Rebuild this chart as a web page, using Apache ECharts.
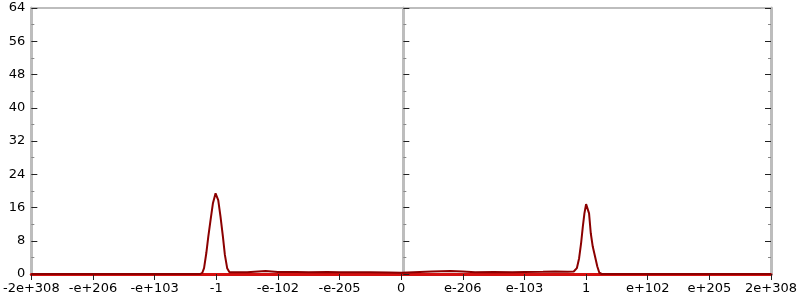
<!DOCTYPE html>
<html><head><meta charset="utf-8">
<script src="https://cdn.jsdelivr.net/npm/echarts@6/dist/echarts.min.js"></script>
<style>html,body{margin:0;padding:0;background:#fff}#c{width:800px;height:300px}</style>
</head><body><div id="c"></div>
<script>
// Tick labels (x positions are label indexes -6..6)
var xTickLabels = ['-2e+308','-e+206','-e+103','-1','-e-102','-e-205','0','e-206','e-103','1','e+102','e+205','2e+308'];

// Density curve
var curveX = [-6, -3.26, -3.226, -3.198, -3.161, -3.129, -3.092, -3.053, -3.011, -2.968, -2.931, -2.892, -2.860, -2.823, -2.785,
  -2.7, -2.5, -2.2, -2.0, -1.7, -1.5, -1.2, -1.0, -0.7, -0.5, -0.2, 0, 0.2, 0.5, 0.8, 1.0, 1.2, 1.5, 1.8, 2.0, 2.3, 2.5, 2.7,
  2.80, 2.850, 2.887, 2.919, 2.947, 2.973, 3.000, 3.027, 3.048, 3.076, 3.108, 3.145, 3.182, 3.215, 3.253, 6];
var curveY = [0, 0, 0.3, 1.4, 5.05, 9.0, 13.0, 17.1, 19.4, 17.8, 13.8, 9.0, 4.6, 1.4, 0.4,
  0.4, 0.45, 0.7, 0.5, 0.5, 0.4, 0.5, 0.45, 0.4, 0.4, 0.35, 0.3, 0.45, 0.6, 0.7, 0.6, 0.45, 0.5, 0.45, 0.5, 0.55, 0.6, 0.55,
  0.6, 1.4, 3.8, 7.4, 11.4, 14.6, 16.8, 16.8, 14.6, 9.8, 6.6, 4.2, 1.8, 0.3, 0, 0];

var curve = curveX.map(function (x, i) { return [x, curveY[i]]; });

var FONT = 'DejaVu Sans';
function blank() { return ''; }
function yAxisAt(position, offset, withLabels) {
  return {
    type: 'value', min: 0, max: 64, interval: 8, position: position, offset: offset,
    splitLine: {show: false},
    axisLine: {show: true, onZero: false, lineStyle: {color: '#bdbdbd', width: 3}},
    axisTick: {show: true, inside: true, length: 6, lineStyle: {color: '#222'}},
    minorTick: {show: true, splitNumber: 2, length: 3, lineStyle: {color: '#888'}},
    axisLabel: withLabels
      ? {color: '#000', fontFamily: FONT, fontSize: 13, margin: 6}
      : {show: true, formatter: blank}
  };
}

var chart = echarts.init(document.getElementById('c'));
chart.setOption({
  animation: false,
  grid: {left: 28, right: 27, top: 8, bottom: 26},
  xAxis: [{
    type: 'value', min: -6, max: 6, interval: 1,
    splitLine: {show: false},
    axisLine: {show: true, onZero: false, lineStyle: {color: '#d41010', width: 3}},
    axisTick: {show: true, length: 6, lineStyle: {color: '#222'}},
    axisLabel: {color: '#000', fontFamily: FONT, fontSize: 13, margin: 8,
      formatter: function (v) { return xTickLabels[Math.round(v) + 6]; }}
  }, {
    type: 'value', min: -6, max: 6, interval: 1, position: 'top',
    splitLine: {show: false},
    axisLine: {show: true, onZero: false, lineStyle: {color: '#bdbdbd', width: 2}},
    axisTick: {show: false}, axisLabel: {show: false}
  }],
  yAxis: [yAxisAt('left', 0, true), yAxisAt('left', -372, false), yAxisAt('right', 0, false)],
  series: [{
    type: 'line', data: curve, showSymbol: false,
    lineStyle: {color: '#8b0000', width: 2}
  }]
});
</script></body></html>
